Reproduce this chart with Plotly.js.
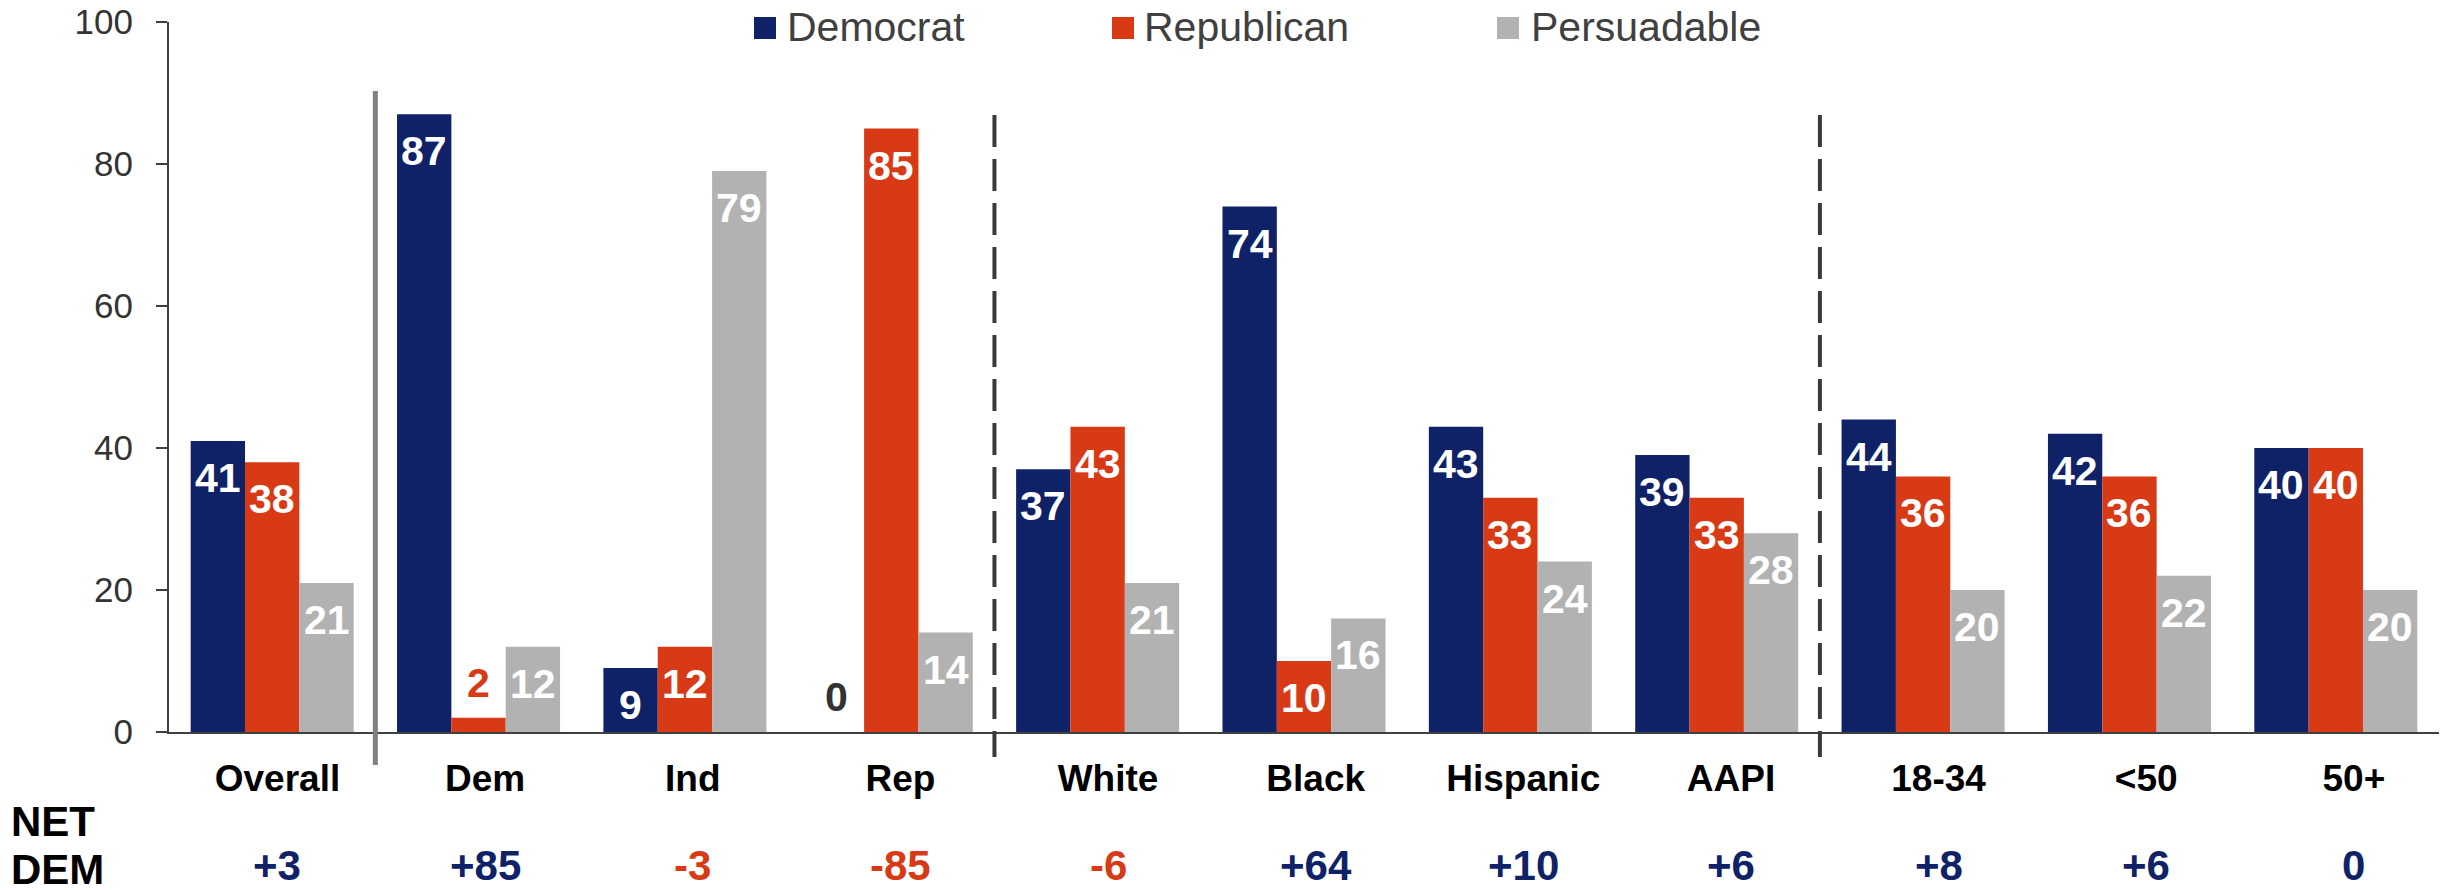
<!DOCTYPE html>
<html>
<head>
<meta charset="utf-8">
<script src="https://cdn.plot.ly/plotly-3.0.1.min.js"></script>
<style>html,body{margin:0;padding:0;background:#fff;}#chart{width:2443px;height:890px;}</style>
</head>
<body>
<div id="chart"></div>
<script>
const categories = ['Overall', 'Dem', 'Ind', 'Rep', 'White', 'Black', 'Hispanic', 'AAPI', '18-34', '<50', '50+'];
const democrat = [41, 87, 9, 0, 37, 74, 43, 39, 44, 42, 40];
const republican = [38, 2, 12, 85, 43, 10, 33, 33, 36, 36, 40];
const persuadable = [21, 12, 79, 14, 21, 16, 24, 28, 20, 22, 20];
const netDem = ['+3', '+85', '-3', '-85', '-6', '+64', '+10', '+6', '+8', '+6', '0'];
const seriesNames = ['Democrat', 'Republican', 'Persuadable'];
const netLabel = ['NET', 'DEM'];

const FONT = 'Liberation Sans, Arial, Helvetica, sans-serif';
const colors = ['#0F2167', '#D83A16', '#B2B2B2'];
const outsideColors = ['#333333', '#D83A16', '#B2B2B2'];
const W = 2443, H = 890;
const M = {l: 169, r: 4, t: 22, b: 158};
const bargap = 0.21;
const plotW = W - M.l - M.r, plotH = H - M.t - M.b;
const catW = plotW / categories.length;
const barW = catW * (1 - bargap) / 3;
const pxPerUnit = plotH / 100;
const idx = categories.map((c, i) => i);

const series = [democrat, republican, persuadable];
const traces = series.map((vals, s) => ({
  type: 'bar', name: seriesNames[s], x: categories, y: vals,
  marker: {color: colors[s], line: {width: 0}},
  hoverinfo: 'x+y+name', showlegend: false
}));

const annotations = [];
series.forEach((vals, s) => {
  vals.forEach((v, i) => {
    const inside = v * pxPerUnit >= 50;
    annotations.push({
      x: categories[i], y: v, xref: 'x', yref: 'y',
      xshift: (s - 1) * barW,
      text: String(v), showarrow: false,
      yanchor: inside ? 'top' : 'bottom',
      yshift: inside ? -12 : 10,
      font: {family: FONT, size: 41, weight: 'bold', color: inside ? '#ffffff' : outsideColors[s]}
    });
  });
});
netDem.forEach((t, i) => {
  annotations.push({
    x: i, y: -0.1887, xref: 'x2', yref: 'paper',
    text: t, showarrow: false, yanchor: 'middle',
    font: {family: FONT, size: 42, weight: 'bold', color: t.startsWith('-') ? '#D83A16' : '#0F2167'}
  });
});
const netY = [-0.126, -0.1935];
netLabel.forEach((t, k) => {
  annotations.push({
    x: (9 - M.l) / plotW, y: netY[k], xref: 'paper', yref: 'paper',
    text: t, showarrow: false, xanchor: 'left', yanchor: 'middle',
    font: {family: FONT, size: 42, weight: 'bold', color: '#000000'}
  });
});

// legend
const legSq = [754, 1112, 1497];
const legTx = [785, 1142, 1529];
const shapes = [];
seriesNames.forEach((n, s) => {
  shapes.push({
    type: 'rect', xref: 'paper', yref: 'paper',
    x0: (legSq[s] - M.l) / plotW, x1: (legSq[s] + 22 - M.l) / plotW,
    y0: (M.t + plotH - 39) / plotH, y1: (M.t + plotH - 17) / plotH,
    fillcolor: colors[s], line: {width: 0}
  });
  annotations.push({
    x: (legTx[s] - M.l) / plotW, y: (M.t + plotH - 27.5) / plotH, xref: 'paper', yref: 'paper',
    text: n, showarrow: false, xanchor: 'left', yanchor: 'middle',
    font: {family: FONT, size: 41, color: '#404040'}
  });
});

// separators
shapes.push({type: 'line', xref: 'x', yref: 'paper', x0: 0.5, x1: 0.5, y0: 0.9028, y1: -0.0465,
  line: {color: '#808080', width: 5}});
[3.5, 7.5].forEach(xv => {
  shapes.push({type: 'line', xref: 'x', yref: 'paper', x0: xv, x1: xv, y0: 0.869, y1: -0.0352,
    line: {color: '#3A3A3A', width: 4, dash: '32px,12px'}});
});

const layout = {
  width: W, height: H, margin: M,
  paper_bgcolor: '#ffffff', plot_bgcolor: '#ffffff',
  barmode: 'group', bargap: bargap, bargroupgap: 0,
  showlegend: false,
  font: {family: FONT},
  xaxis: {
    type: 'category', range: [-0.5, categories.length - 0.5],
    showline: true, linecolor: '#404040', linewidth: 2,
    ticks: '', showgrid: false, zeroline: false, showticklabels: false
  },
  xaxis2: {
    overlaying: 'x', anchor: 'y', side: 'bottom',
    type: 'linear', range: [-0.5225, 10.41],
    tickmode: 'array', tickvals: idx, ticktext: categories,
    showline: false, ticks: '', showgrid: false, zeroline: false,
    tickfont: {family: FONT, size: 37, color: '#000000', weight: 'bold'},
    ticklabelstandoff: 21
  },
  yaxis: {
    range: [0, 100], dtick: 20, tick0: 0,
    showline: true, linecolor: '#404040', linewidth: 2,
    ticks: 'outside', ticklen: 11, tickwidth: 2, tickcolor: '#404040',
    showgrid: false, zeroline: false,
    tickfont: {family: FONT, size: 35, color: '#333333'},
    ticklabelstandoff: 16
  },
  shapes: shapes,
  annotations: annotations
};

Plotly.newPlot('chart', traces, layout, {displayModeBar: false, staticPlot: true});
</script>
</body>
</html>
